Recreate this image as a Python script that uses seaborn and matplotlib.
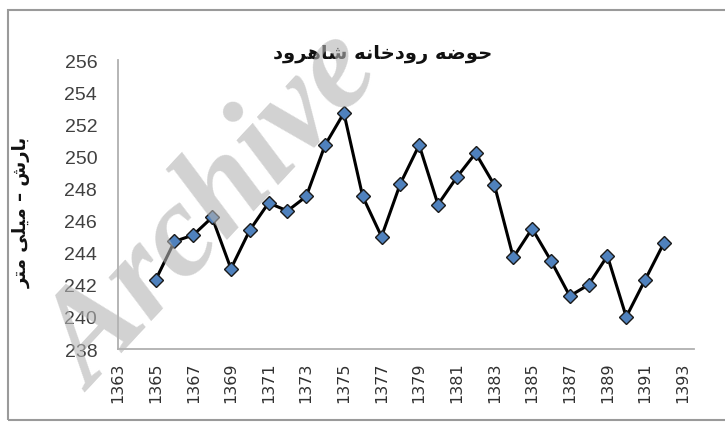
import matplotlib
matplotlib.use("Agg")
import matplotlib.pyplot as plt
import matplotlib.patches as mpatches
import seaborn as sns
import pandas as pd

# ---- data ----
years = [1365, 1366, 1367, 1368, 1369, 1370, 1371, 1372, 1373, 1374,
         1375, 1376, 1377, 1378, 1379, 1380, 1381, 1382, 1383, 1384,
         1385, 1386, 1387, 1388, 1389, 1390, 1391, 1392]
rainfall = [242.3, 244.7, 245.1, 246.2, 243.0, 245.4, 247.1, 246.6, 247.5, 250.7,
            252.7, 247.5, 245.0, 248.3, 250.7, 247.0, 248.7, 250.2, 248.2, 243.7,
            245.5, 243.5, 241.3, 242.0, 243.8, 240.0, 242.3, 244.6]
xticks = list(range(1363, 1394, 2))
yticks = list(range(238, 257, 2))
title_text = "حوضه رودخانه شاهرود"
ylabel_text = "بارش – میلی متر"
watermark_text = "Archive"

# ---- minimal Arabic/Persian shaping (matplotlib has no shaping engine) ----
FORMS = {
    "ا": ("\uFE8D", "\uFE8E"),
    "د": ("\uFEA9", "\uFEAA"),
    "ر": ("\uFEAD", "\uFEAE"),
    "و": ("\uFEED", "\uFEEE"),
    "ب": ("\uFE8F", "\uFE90", "\uFE91", "\uFE92"),
    "ت": ("\uFE95", "\uFE96", "\uFE97", "\uFE98"),
    "ح": ("\uFEA1", "\uFEA2", "\uFEA3", "\uFEA4"),
    "خ": ("\uFEA5", "\uFEA6", "\uFEA7", "\uFEA8"),
    "ش": ("\uFEB5", "\uFEB6", "\uFEB7", "\uFEB8"),
    "ض": ("\uFEBD", "\uFEBE", "\uFEBF", "\uFEC0"),
    "ل": ("\uFEDD", "\uFEDE", "\uFEDF", "\uFEE0"),
    "م": ("\uFEE1", "\uFEE2", "\uFEE3", "\uFEE4"),
    "ن": ("\uFEE5", "\uFEE6", "\uFEE7", "\uFEE8"),
    "ه": ("\uFEE9", "\uFEEA", "\uFEEB", "\uFEEC"),
    "ی": ("\uFEEF", "\uFEF0", "\uFEF3", "\uFEF4"),
}


def shape(s):
    out = []
    for i, ch in enumerate(s):
        if ch not in FORMS:
            out.append(ch)
            continue
        f = FORMS[ch]
        prev = s[i - 1] if i > 0 else ""
        nxt = s[i + 1] if i + 1 < len(s) else ""
        jp = prev in FORMS and len(FORMS[prev]) == 4
        jn = len(f) == 4 and nxt in FORMS
        if jp and jn:
            out.append(f[3])
        elif jp:
            out.append(f[1])
        elif jn:
            out.append(f[2])
        else:
            out.append(f[0])
    return "".join(out)[::-1]


sns.set_theme(style="white")
plt.rcParams["font.family"] = ["DejaVu Sans"]

df = pd.DataFrame({"year": years, "rain": rainfall})

fig = plt.figure(figsize=(7.25, 4.27), dpi=100)
ax = fig.add_axes([118 / 725, 1 - 350 / 427, (694 - 118) / 725, (350 - 61) / 427])

# outer chart frame
fig.patches.append(mpatches.Rectangle((8 / 725, 1 - 421 / 427), 1.0, (421 - 11) / 427,
                                      transform=fig.transFigure, fill=False,
                                      edgecolor="#9a9a9a", linewidth=1.5, zorder=0))

sns.lineplot(data=df, x="year", y="rain", ax=ax, color="black", linewidth=2.2,
             marker="D", markersize=7, markerfacecolor="#4F81BD",
             markeredgecolor="#1a1a1a", markeredgewidth=1.0)

ax.set_xlim(1363, 1393.6)
ax.set_ylim(238, 256)
ax.set_xticks(xticks)
ax.set_yticks(yticks)
ax.set_xticklabels([str(t) for t in xticks], rotation=90, fontsize=11.5,
                   color="#303030", family=["DejaVu Sans"])
ax.set_yticklabels([str(t) for t in yticks], fontsize=14, color="#404040",
                   family=["Liberation Sans", "DejaVu Sans"])
ax.tick_params(axis="both", length=0)
ax.tick_params(axis="y", pad=15)
ax.tick_params(axis="x", pad=9)
ax.set_xlabel("")
ax.set_ylabel("")
for side in ["top", "right"]:
    ax.spines[side].set_visible(False)
for side in ["left", "bottom"]:
    ax.spines[side].set_color("#b0b0b0")
    ax.spines[side].set_linewidth(1.3)
ax.grid(False)

fig.text(383 / 725, 1 - 54 / 427, shape(title_text), ha="center", va="center",
         fontsize=14, fontweight="bold", color="#111111", family=["DejaVu Sans"])
fig.text(22 / 725, 1 - 212 / 427, shape(ylabel_text), ha="center", va="center",
         rotation=90, fontsize=13, fontweight="bold", color="#111111",
         family=["DejaVu Sans"])

# light watermark seen in the reference
fig.text(215 / 725, 1 - 213 / 427, watermark_text, ha="center", va="center",
         rotation=47, fontsize=96, fontweight="bold", fontstyle="italic",
         color="#b4b4b4", alpha=0.6, family=["Liberation Serif", "DejaVu Serif"],
         zorder=10)

fig.savefig("out.png", dpi=100, facecolor="white")
